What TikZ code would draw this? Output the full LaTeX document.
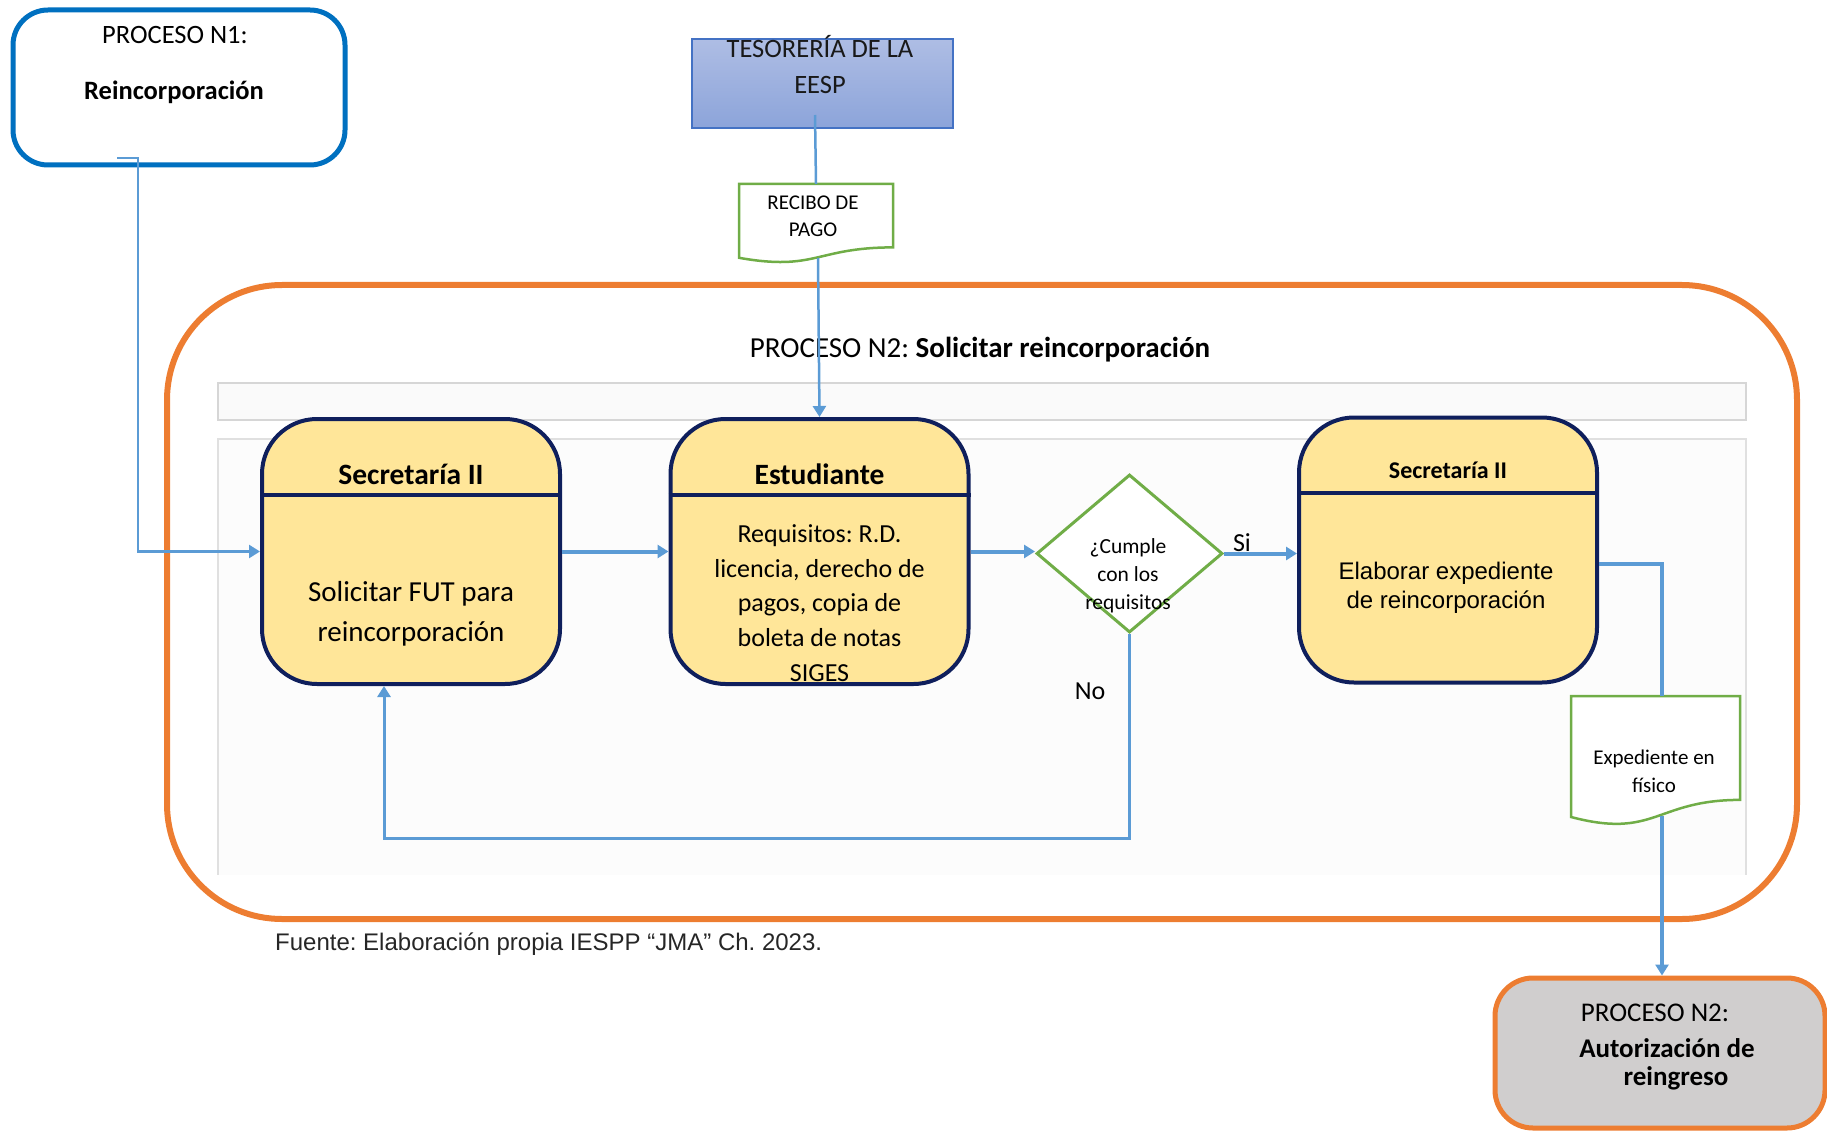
\documentclass[tikz,border=0pt]{standalone}
\usepackage{fontspec}
\setmainfont{Carlito}
\newfontfamily\arialf{Liberation Sans}
\usetikzlibrary{arrows.meta,shapes.geometric,calc}

\definecolor{flow}{HTML}{5B9BD5}
\definecolor{navy}{HTML}{0F1F5C}
\definecolor{ylw}{HTML}{FFE699}
\definecolor{grn}{HTML}{70AD47}
\definecolor{orng}{HTML}{ED7D31}
\definecolor{blueedge}{HTML}{0070C0}
\definecolor{tesTop}{HTML}{AEBDE4}
\definecolor{tesBot}{HTML}{8CA4DA}
\definecolor{tesEdge}{HTML}{4472C4}
\definecolor{greybox}{HTML}{D0CECE}
\definecolor{laneedge}{HTML}{D6D6D6}

\newcommand{\fs}[2]{\fontsize{#1}{#2}\selectfont}

\tikzset{
  actbox/.style={draw=navy, line width=4pt, fill=ylw, rounded corners=55pt,
    minimum width=298pt, minimum height=265pt, inner sep=0pt},
  hdrline/.style={draw=navy, line width=4pt},
  docline/.style={draw=grn, line width=2.5pt, fill=white},
  thinflow/.style={draw=flow, line width=2.5pt},
  thickflow/.style={draw=flow, line width=4pt},
  tip/.style={-{Triangle[width=13pt,length=11pt]}},
  txt/.style={inner sep=0pt, align=center},
}

\begin{document}
\frenchspacing
\begin{tikzpicture}[x=1pt,y=-1pt]
\useasboundingbox (0,0) rectangle (1827,1131);

% outer process frame
\node[draw=orng, line width=6pt, rounded corners=115pt, minimum width=1630pt,
      minimum height=634pt, inner sep=0pt] (frame) at (982,602) {};

% lanes
\node[draw=laneedge, line width=1.5pt, fill=black!2, minimum width=1528pt,
      minimum height=37pt, inner sep=0pt] (lane1) at (982,401.5) {};
\fill[black!1] (218,439) rectangle (1746,875);
\draw[black!12, line width=1.5pt] (218,875) -- (218,439) -- (1746,439) -- (1746,875);

\node[txt, font=\fs{29}{34}] (title) at (980,350)
  {PROCESO N2: \textbf{Solicitar reincorporación}};

% process 1
\node[draw=blueedge, line width=5pt, rounded corners=35pt, minimum width=332pt,
      minimum height=155pt, inner sep=0pt, fill=white] (n1) at (179,87.5) {};
\node[txt, font=\fs{26.5}{30}] (n1a) at (175,35) {PROCESO N1:};
\node[txt, font=\bfseries\fs{26.5}{30}] (n1b) at (174,92) {Reincorporación};

% treasury
\node[draw=tesEdge, line width=1.5pt, top color=tesTop, bottom color=tesBot,
      minimum width=261pt, minimum height=89pt, inner sep=0pt] (tes) at (822.5,83.5) {};
\node[txt, font=\fs{26.5}{36}, text=black!90] (testxt) at (820,65) {TESORERÍA DE LA\\EESP};

% receipt document
\draw[docline] (739,184) -- (893,184) -- (893,247.4)
  .. controls (816,247.4) and (816,271.5) .. (739,257.8) -- cycle;
\node[txt, font=\fs{21}{27}] (recibo) at (813,216) {RECIBO DE\\PAGO};
\coordinate (rtop) at (816,184);
\coordinate (rbot) at (818,258);

% activity boxes
\node[actbox] (sec1) at (411,551.5) {};
\draw[hdrline] (sec1.west |- 0,495) -- (sec1.east |- 0,495);
\node[txt, font=\bfseries\fs{29.5}{34}] (sec1h) at (411,474) {Secretaría II};
\node[txt, font=\fs{29}{40}] (sec1b) at (411,614) {Solicitar FUT para\\reincorporación};

\node[actbox] (est) at (819.5,551.5) {};
\draw[hdrline] (est.west |- 0,495) -- (est.east |- 0,495);
\node[txt, font=\bfseries\fs{29.5}{34}] (esth) at (819.5,474) {Estudiante};
\node[txt, font=\fs{26}{34.8}] (estb) at (819.5,603)
  {Requisitos: R.D.\\licencia, derecho de\\pagos, copia de\\boleta de notas\\SIGES};

\node[actbox] (sec2) at (1448,550) {};
\draw[hdrline] (sec2.west |- 0,493) -- (sec2.east |- 0,493);
\node[txt, font=\bfseries\fs{24}{30}] (sec2h) at (1448,470) {Secretaría II};
\node[txt, font=\arialf\fs{24}{29}] (sec2b) at (1446,587.5)
  {Elaborar expediente\\de reincorporación};

% decision
\node[diamond, draw=grn, line width=3pt, fill=white, minimum width=186pt,
      minimum height=158pt, inner sep=0pt] (dia) at (1129.5,553.5) {};
\node[txt, font=\fs{21.5}{28}] (diat) at (1128,576) {¿Cumple\\con los\\requisitos};
\node[txt, font=\fs{26}{30}] (si) at (1242,543) {Si};
\node[txt, font=\fs{26}{30}] (no) at (1090,691) {No};

% file document
\draw[docline] (1571,696) -- (1740,696) -- (1740,799.9)
  .. controls (1655.5,799.9) and (1655.5,839.3) .. (1571,817) -- cycle;
\node[txt, font=\fs{21}{28}] (exp) at (1654,771) {Expediente en\\físico};
\coordinate (etop) at (1662,696);
\coordinate (ebot) at (1662,816);

% process 2 authorisation
\node[draw=orng, line width=5pt, rounded corners=38pt, fill=greybox, minimum width=330pt,
      minimum height=150pt, inner sep=0pt] (n2) at (1660,1053) {};
\node[txt, font=\fs{27}{30}] (n2a) at (1655,1013) {PROCESO N2:};
\node[txt, font=\bfseries\fs{27}{30}] (n2b) at (1667,1048) {Autorización de};
\node[txt, font=\bfseries\fs{27}{30}] (n2c) at (1676,1078) {reingreso};

% source note
\node[anchor=west, inner sep=0pt, font=\arialf\fs{24}{28}, text=black!85] (src) at (275,944)
  {Fuente: Elaboración propia IESPP “JMA” Ch. 2023.};

% connectors
\coordinate (n1out) at (117,158);
\draw[thinflow, tip] (n1out) -- ++(21,0) |- (sec1.west);
\coordinate (tesout) at (815,115);
\draw[thinflow] (tesout) -- (rtop);
\draw[thinflow, tip] (rbot) -- (est.north);
\draw[thickflow, tip] (sec1.east) -- (est.west);
\draw[thickflow, tip] (est.east) -- (est.east -| dia.west);
\draw[thickflow, tip] (dia.east) -- (dia.east -| sec2.west);
\draw[draw=flow, line width=3pt, tip] (dia.south) -- ++(0,204) -| ([xshift=-27pt]sec1.south);
\draw[thickflow] ([yshift=-14pt]sec2.east) -| (etop);
\draw[thickflow, tip] (ebot) -- (ebot |- n2.north);
\end{tikzpicture}
\end{document}
